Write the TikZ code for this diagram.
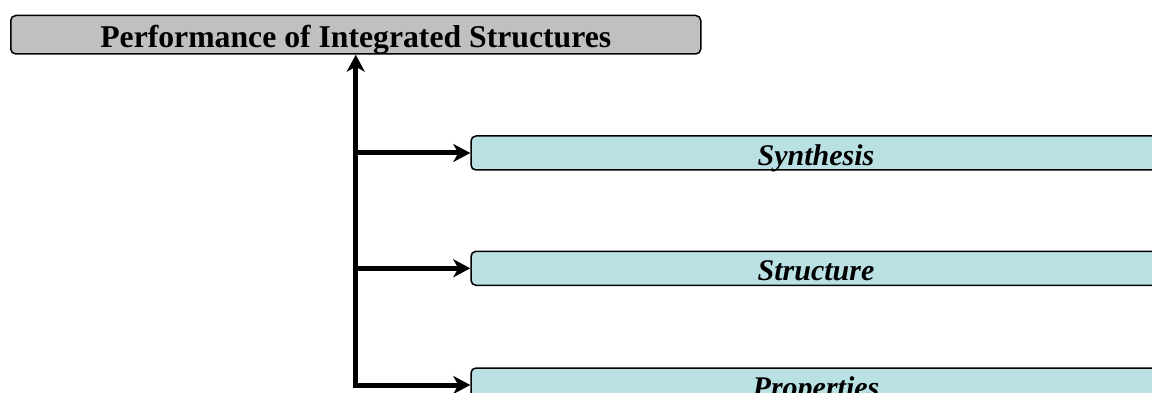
\documentclass[tikz,border=0pt]{standalone}
\usepackage{fontspec}
\setmainfont{Liberation Serif}
\usetikzlibrary{arrows.meta,positioning}
\definecolor{headgray}{RGB}{192,192,192}
\definecolor{boxcyan}{RGB}{185,224,227}
\begin{document}
\begin{tikzpicture}[x=1pt, y=-1pt,
		head/.style = {draw, line width=1.5pt, rounded corners=5pt, fill=headgray,
			minimum width=690pt, minimum height=38.5pt, inner sep=0pt,
			text height=26.5pt, text depth=0pt,
			font=\fontsize{31.7}{36}\selectfont\bfseries},
		item/.style = {draw, line width=1.5pt, rounded corners=5pt, fill=boxcyan,
			minimum width=690pt, minimum height=34pt, inner sep=0pt,
			text height=24.5pt, text depth=0pt,
			font=\fontsize{30}{34}\selectfont\bfseries\itshape},
		trunk/.style = {line width=5pt},
		branch/.style = {line width=5pt, -{Stealth[length=17pt, width=18pt, inset=5pt]}}]
		\clip (0, 0) rectangle (1152, 393);
		\node[head] (perf) at (355.75, 34.75) {Performance of Integrated Structures};
		\node[item] (synth) at (816, 153) {Synthesis};
		\node[item] (struct) at (816, 268.3) {Structure};
		\node[item] (props) at (816, 385) {Properties};
		\coordinate (corner) at (perf.south |- props.west);
		\draw[branch] ([yshift=-2.5pt]corner) -- (perf.south);
		\draw[branch] ([xshift=-2.5pt]corner) -- (props.west);
		\draw[branch] (corner |- synth.west) -- (synth.west);
		\draw[branch] (corner |- struct.west) -- (struct.west);
	\end{tikzpicture}
\end{document}
